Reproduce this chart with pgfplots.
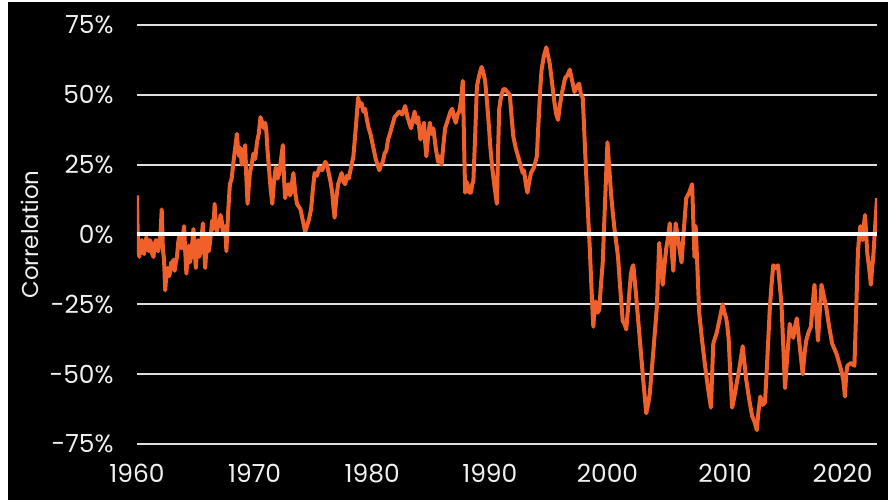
\documentclass[border=0pt]{standalone}
\usepackage{fontspec}
\setmainfont{Poppins}
\usepackage{pgfplots}
\pgfplotsset{compat=1.18}
\definecolor{lineor}{RGB}{240,96,42}
\definecolor{gridc}{RGB}{222,222,222}
\definecolor{txt}{RGB}{240,240,240}
\begin{document}
\begin{tikzpicture}
\fill[white] (-137bp,-56bp) rectangle (751bp,444bp);
\fill[black] (-129bp,-56bp) rectangle (751bp,442bp);
\begin{axis}[
  at={(0,0)}, anchor=south west,
  scale only axis, width=740bp, height=419bp,
  xmin=1960, xmax=2022.92, ymin=-75, ymax=75,
  axis line style={draw=none}, tick style={draw=none},
  ytick={-75,-50,...,75},
  yticklabel={\pgfmathprintnumber{\tick}\%},
  xtick={1960,1970,...,2020},
  xticklabel style={/pgf/number format/1000 sep=, anchor=north, yshift=-17bp},
  yticklabel style={anchor=east, xshift=-20bp},
  ticklabel style={font=\fontsize{25}{30}\selectfont, text=txt},
  /pgf/number format/assume math mode=true,
  ymajorgrids, grid style={gridc, line width=2bp},
  ylabel={Correlation},
  ylabel style={at={(axis description cs:-0.1446,0.5)}, anchor=center, font=\fontsize{23}{28}\selectfont, text=txt},
]
\addplot[lineor, line width=4bp, line join=round] coordinates {
(1960.0,14) (1960.05,2) (1960.1,-5) (1960.2,-8) (1960.3,-3) (1960.4,-2) (1960.5,-6) (1960.6,-7) (1960.7,-3) (1960.8,-1)
(1960.9,-4) (1961.0,-6) (1961.1,-2) (1961.2,-3) (1961.3,-7) (1961.4,-8) (1961.5,-4) (1961.6,-2) (1961.7,-5) (1961.8,-6) (1961.9,-2) (1962.0,0)
(1962.1,9) (1962.2,-5) (1962.3,-9) (1962.4,-20) (1962.5,-14) (1962.6,-12) (1962.7,-15) (1962.8,-14) (1962.9,-10) (1963.0,-11)
(1963.1,-9) (1963.2,-13) (1963.3,-10) (1963.4,-8) (1963.5,-3) (1963.6,0) (1963.7,-4) (1963.8,-5) (1963.9,-1) (1964.0,3) (1964.1,-6) (1964.2,-14)
(1964.3,-8) (1964.4,-4) (1964.5,-10) (1964.6,-8) (1964.7,-3) (1964.8,2) (1964.9,-5) (1965.0,-12) (1965.1,-6) (1965.2,-2) (1965.3,-8) (1965.4,-6)
(1965.5,-1) (1965.6,4) (1965.7,-4) (1965.8,-12) (1965.9,-5) (1966.0,0) (1966.1,-6) (1966.2,-3) (1966.3,1) (1966.4,5) (1966.5,2) (1966.6,11)
(1966.7,4) (1966.8,1) (1966.9,4) (1967.0,3) (1967.1,7) (1967.2,5) (1967.3,1) (1967.4,0) (1967.5,3) (1967.6,-6) (1967.75,8) (1967.9,18)
(1968.05,20) (1968.2,26) (1968.35,31) (1968.5,36) (1968.6,30) (1968.7,28) (1968.8,31) (1968.9,25) (1969.05,27) (1969.2,32) (1969.3,20) (1969.4,11)
(1969.5,17) (1969.6,22) (1969.75,25) (1969.9,29) (1970.05,27) (1970.2,33) (1970.35,36) (1970.5,42) (1970.65,40) (1970.8,38) (1970.9,40) (1971.0,37)
(1971.1,30) (1971.2,25) (1971.35,17) (1971.5,11) (1971.65,19) (1971.8,24) (1971.95,20) (1972.1,22) (1972.25,27) (1972.4,32) (1972.5,20) (1972.6,13)
(1972.75,17) (1972.9,18) (1973.0,14) (1973.1,15) (1973.2,19) (1973.3,22) (1973.45,15) (1973.6,11) (1973.75,10) (1973.9,9) (1974.1,5) (1974.3,1)
(1974.45,3) (1974.6,5) (1974.7,7) (1974.8,9) (1974.95,16) (1975.1,22) (1975.3,21) (1975.5,24) (1975.75,23) (1976.0,26) (1976.15,25) (1976.3,22)
(1976.45,19) (1976.6,15) (1976.7,10) (1976.8,6) (1976.95,13) (1977.1,18) (1977.25,20) (1977.4,22) (1977.55,19) (1977.7,18) (1977.85,21) (1978.0,20)
(1978.2,24) (1978.4,28) (1978.6,38) (1978.8,49) (1978.95,46) (1979.1,47) (1979.25,44) (1979.4,45) (1979.55,41) (1979.7,38) (1979.85,36) (1980.0,33)
(1980.15,30) (1980.3,27) (1980.45,25) (1980.6,23) (1980.75,25) (1980.9,26) (1981.05,29) (1981.2,30) (1981.35,34) (1981.5,36) (1981.7,39) (1981.9,42)
(1982.1,43) (1982.3,44) (1982.55,43) (1982.8,46) (1982.9,44) (1983.0,42) (1983.15,40) (1983.3,38) (1983.45,41) (1983.6,44) (1983.75,40) (1983.9,42)
(1984.0,38) (1984.1,34) (1984.25,37) (1984.4,40) (1984.5,33) (1984.6,28) (1984.75,35) (1984.9,40) (1985.05,36) (1985.2,38) (1985.4,31) (1985.6,26)
(1985.75,28) (1985.9,25) (1986.05,32) (1986.2,38) (1986.35,40) (1986.5,42) (1986.65,44) (1986.8,45) (1986.95,42) (1987.1,40) (1987.25,43) (1987.4,44)
(1987.55,48) (1987.7,55) (1987.8,35) (1987.9,15) (1988.0,19) (1988.1,18) (1988.25,15) (1988.4,15) (1988.5,18) (1988.6,19) (1988.75,35) (1988.9,53)
(1989.1,57) (1989.3,60) (1989.45,58) (1989.6,55) (1989.75,48) (1989.9,40) (1990.05,31) (1990.2,24) (1990.4,17) (1990.6,11) (1990.7,30) (1990.8,45)
(1990.9,48) (1991.0,50) (1991.15,52) (1991.3,52) (1991.5,51) (1991.7,50) (1991.85,42) (1992.0,35) (1992.2,31) (1992.4,28) (1992.6,25) (1992.8,22)
(1992.9,23) (1993.0,20) (1993.1,17) (1993.2,15) (1993.35,19) (1993.5,22) (1993.75,24) (1994.0,28) (1994.1,37) (1994.2,45) (1994.3,53) (1994.4,59)
(1994.6,64) (1994.8,67) (1994.95,64) (1995.1,61) (1995.3,54) (1995.5,47) (1995.65,43) (1995.8,41) (1995.95,46) (1996.1,50) (1996.25,53) (1996.4,56)
(1996.6,57) (1996.8,59) (1997.0,55) (1997.2,51) (1997.4,53) (1997.6,54) (1997.75,50) (1997.9,49) (1998.0,40) (1998.1,30) (1998.2,21) (1998.3,12)
(1998.4,3) (1998.5,-5) (1998.65,-20) (1998.8,-33) (1998.9,-27) (1999.0,-24) (1999.15,-28) (1999.3,-27) (1999.45,-18) (1999.6,-10) (1999.8,12) (2000.0,33)
(2000.15,24) (2000.3,15) (2000.45,8) (2000.6,2) (2000.75,-3) (2000.9,-8) (2001.1,-20) (2001.3,-31) (2001.45,-32) (2001.6,-34) (2001.8,-24) (2002.0,-14)
(2002.1,-12) (2002.2,-11) (2002.4,-20) (2002.6,-30) (2002.8,-40) (2003.0,-50) (2003.15,-57) (2003.3,-64) (2003.45,-61) (2003.6,-57) (2003.9,-42) (2004.2,-26)
(2004.3,-15) (2004.4,-3) (2004.55,-10) (2004.7,-18) (2004.85,-11) (2005.0,-5) (2005.15,-1) (2005.3,4) (2005.45,-5) (2005.6,-13) (2005.7,-4) (2005.8,4)
(2006.05,-3) (2006.3,-10) (2006.5,2) (2006.7,13) (2006.95,15) (2007.2,18) (2007.3,5) (2007.4,-8) (2007.45,-3) (2007.5,3) (2007.65,-12) (2007.8,-28)
(2008.05,-38) (2008.3,-47) (2008.55,-55) (2008.8,-62) (2008.9,-50) (2009.0,-39) (2009.15,-37) (2009.3,-35) (2009.55,-30) (2009.8,-25) (2009.95,-28) (2010.1,-30)
(2010.2,-33) (2010.3,-37) (2010.45,-50) (2010.6,-62) (2010.8,-58) (2011.0,-53) (2011.25,-47) (2011.5,-40) (2011.65,-46) (2011.8,-52) (2012.05,-59) (2012.3,-65)
(2012.5,-67) (2012.7,-70) (2012.85,-63) (2013.0,-58) (2013.2,-61) (2013.4,-60) (2013.6,-44) (2013.8,-27) (2013.95,-18) (2014.1,-11) (2014.3,-12) (2014.5,-11)
(2014.65,-18) (2014.8,-25) (2014.95,-40) (2015.1,-55) (2015.3,-43) (2015.5,-32) (2015.65,-35) (2015.8,-37) (2015.95,-33) (2016.1,-30) (2016.35,-40) (2016.6,-50)
(2016.75,-43) (2016.9,-38) (2017.1,-35) (2017.3,-33) (2017.45,-25) (2017.6,-18) (2017.75,-28) (2017.9,-38) (2018.05,-28) (2018.2,-18) (2018.4,-22) (2018.6,-26)
(2018.85,-33) (2019.1,-39) (2019.3,-41) (2019.5,-43) (2019.7,-46) (2019.9,-49) (2020.05,-52) (2020.2,-58) (2020.3,-50) (2020.4,-47) (2020.7,-46) (2021.0,-47)
(2021.15,-27) (2021.3,-6) (2021.4,-1) (2021.5,3) (2021.6,0) (2021.7,-2) (2021.8,3) (2021.9,7) (2022.0,0) (2022.1,-7) (2022.25,-12) (2022.4,-18)
(2022.5,-12) (2022.6,-8) (2022.75,2) (2022.92,13)
};
\addplot[white, line width=4bp, forget plot] coordinates {(1960,0) (2022.92,0)};
\end{axis}
\end{tikzpicture}
\end{document}
